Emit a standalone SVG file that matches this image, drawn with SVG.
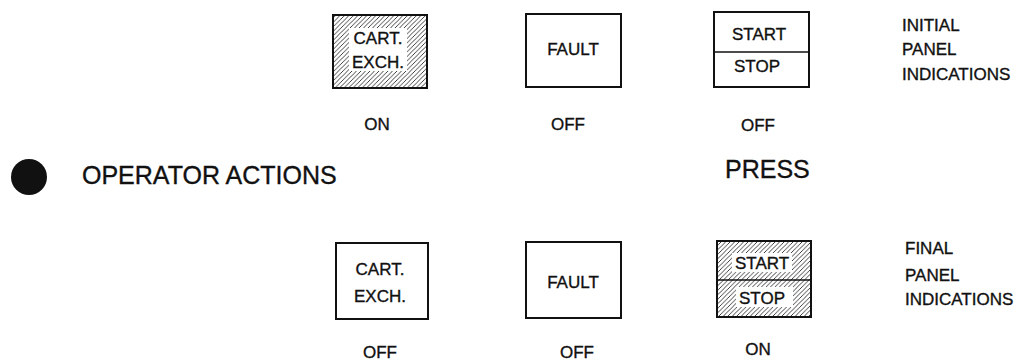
<svg xmlns="http://www.w3.org/2000/svg" width="1018" height="363" viewBox="0 0 1018 363">
<defs>
<pattern id="hatch" patternUnits="userSpaceOnUse" width="4.5" height="4.5">
<path d="M-1,1 l2,-2 M0,4.5 l4.5,-4.5 M3.5,5.5 l2,-2" stroke="#111" stroke-width="0.8"/>
</pattern>
<style>
text{font-family:"Liberation Sans",Arial,sans-serif;fill:#111;stroke:#111;stroke-width:0.35}
.lbl{font-size:17px;text-anchor:middle}
.st{font-size:17px;text-anchor:middle}
.side{font-size:17px}
.big{font-size:25px}
.box{fill:#fff;stroke:#111;stroke-width:2}
.hbox{fill:url(#hatch);stroke:#111;stroke-width:2}
.win{fill:#fff;stroke:none}
.div{stroke:#111;stroke-width:1.5}
</style>
</defs>
<rect width="1018" height="363" fill="#fff"/>

<g id="initial-cart">
<rect class="hbox" x="333" y="15" width="94" height="73"/>
<rect class="win" x="349" y="28" width="58" height="43"/>
<text class="lbl" x="378" y="44">CART.</text>
<text class="lbl" x="378" y="68">EXCH.</text>
<text class="lbl" x="377" y="130">ON</text>
</g>

<g id="initial-fault">
<rect class="box" x="526" y="14" width="95" height="73"/>
<text class="lbl" x="573" y="55">FAULT</text>
<text class="lbl" x="568" y="130">OFF</text>
</g>

<g id="initial-startstop">
<rect class="box" x="714" y="12" width="95" height="75"/>
<line class="div" x1="714" y1="52" x2="809" y2="52"/>
<text class="st" x="759" y="40">START</text>
<text class="st" x="757" y="72">STOP</text>
<text class="lbl" x="758" y="131">OFF</text>
</g>

<g id="initial-label">
<text class="side" x="902" y="31">INITIAL</text>
<text class="side" x="902" y="55">PANEL</text>
<text class="side" x="902" y="80">INDICATIONS</text>
</g>

<g id="operator-actions">
<circle cx="29" cy="177" r="18" fill="#111"/>
<text class="big" x="82" y="184">OPERATOR ACTIONS</text>
</g>

<g id="press">
<text class="big" x="725" y="178">PRESS</text>
</g>

<g id="final-cart">
<rect class="box" x="336" y="243" width="92" height="76"/>
<text class="lbl" x="380" y="275">CART.</text>
<text class="lbl" x="380" y="302">EXCH.</text>
<text class="lbl" x="380" y="358">OFF</text>
</g>

<g id="final-fault">
<rect class="box" x="526" y="242" width="95" height="76"/>
<text class="lbl" x="573" y="288">FAULT</text>
<text class="lbl" x="577" y="358">OFF</text>
</g>

<g id="final-startstop">
<rect class="hbox" x="717" y="241" width="94" height="76"/>
<rect class="win" x="732" y="253" width="60" height="19"/>
<rect class="win" x="736" y="287" width="57" height="20"/>
<line class="div" x1="717" y1="280" x2="811" y2="280"/>
<text class="st" x="762" y="269">START</text>
<text class="st" x="762" y="304">STOP</text>
<text class="lbl" x="758" y="355">ON</text>
</g>

<g id="final-label">
<text class="side" x="905" y="254">FINAL</text>
<text class="side" x="905" y="281">PANEL</text>
<text class="side" x="905" y="305">INDICATIONS</text>
</g>

<g id="connectors"></g>
</svg>
